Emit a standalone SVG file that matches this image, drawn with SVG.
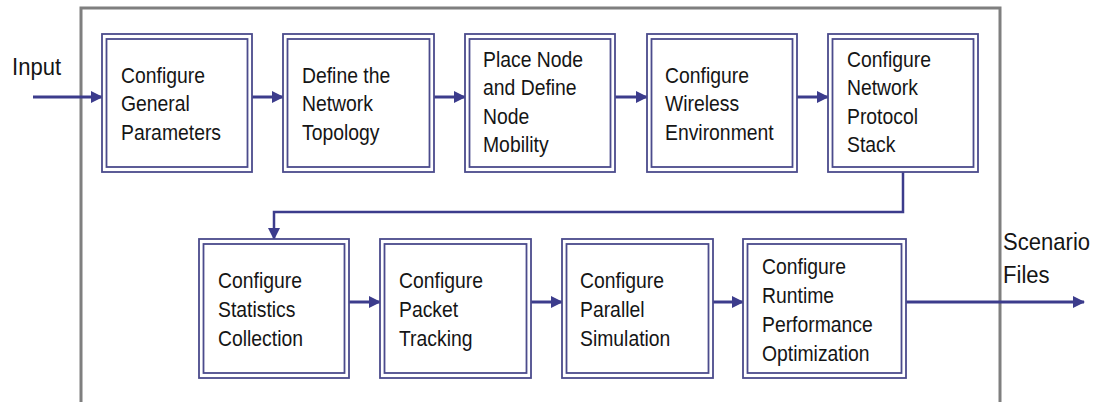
<svg xmlns="http://www.w3.org/2000/svg" width="1102" height="402" viewBox="0 0 1102 402">
<style>
  .frame { fill: none; stroke: #7f7f7f; stroke-width: 3; }
  .outer { fill: #ffffff; stroke: #4b4b8c; stroke-width: 1.8; }
  .inner { fill: #ffffff; stroke: #4b4b8c; stroke-width: 1.8; }
  .lbl { font-family: "Liberation Sans", Arial, sans-serif; font-size: 22px; fill: #151515; }
  .io { font-family: "Liberation Sans", Arial, sans-serif; font-size: 24px; fill: #151515; }
  .conn { fill: none; stroke: #3c3c8c; stroke-width: 3; }
  .conn2 { fill: none; stroke: #3c3c8c; stroke-width: 2.5; }
</style>
<defs>
  <marker id="ah" markerUnits="userSpaceOnUse" markerWidth="12" markerHeight="12" refX="11" refY="6" orient="auto">
    <path d="M0,0 L12,6 L0,12 z" fill="#3c3c8c"/>
  </marker>
</defs>
<rect x="0" y="0" width="1102" height="402" fill="#ffffff"/>
<rect class="frame" x="81" y="8" width="919" height="400"/>

<g id="labels">
  <text class="io" transform="translate(12,0) scale(0.92,1)" x="0" y="75">Input</text>
  <text class="io" transform="translate(1003,0) scale(0.92,1)"><tspan x="0" y="250">Scenario</tspan><tspan x="0" y="283">Files</tspan></text>
</g>

<g id="connectors">
  <line class="conn" x1="33" y1="97" x2="102" y2="97" marker-end="url(#ah)"/>
  <line class="conn" x1="252" y1="97" x2="283" y2="97" marker-end="url(#ah)"/>
  <line class="conn" x1="434" y1="97" x2="465" y2="97" marker-end="url(#ah)"/>
  <line class="conn" x1="615" y1="97" x2="647" y2="97" marker-end="url(#ah)"/>
  <line class="conn" x1="797" y1="97" x2="828" y2="97" marker-end="url(#ah)"/>
  <polyline class="conn2" points="903,172 903,212 274,212 274,239" marker-end="url(#ah)"/>
  <line class="conn" x1="349" y1="302" x2="380" y2="302" marker-end="url(#ah)"/>
  <line class="conn" x1="531" y1="302" x2="562" y2="302" marker-end="url(#ah)"/>
  <line class="conn" x1="713" y1="302" x2="743" y2="302" marker-end="url(#ah)"/>
  <line class="conn" x1="906" y1="302" x2="1084" y2="302" marker-end="url(#ah)"/>
</g>

<g id="n1">
  <rect class="outer" x="102" y="34" width="150" height="138"/>
  <rect class="inner" x="106.5" y="39" width="141" height="128"/>
  <text class="lbl" transform="translate(121,0) scale(0.88,1)"><tspan x="0" y="83">Configure</tspan><tspan x="0" y="111.5">General</tspan><tspan x="0" y="140">Parameters</tspan></text>
</g>
<g id="n2">
  <rect class="outer" x="283" y="34" width="151" height="138"/>
  <rect class="inner" x="287.5" y="39" width="142" height="128"/>
  <text class="lbl" transform="translate(302,0) scale(0.88,1)"><tspan x="0" y="83">Define the</tspan><tspan x="0" y="111.5">Network</tspan><tspan x="0" y="140">Topology</tspan></text>
</g>
<g id="n3">
  <rect class="outer" x="465" y="34" width="150" height="138"/>
  <rect class="inner" x="469.5" y="39" width="141" height="128"/>
  <text class="lbl" transform="translate(483,0) scale(0.88,1)"><tspan x="0" y="67">Place Node</tspan><tspan x="0" y="95.5">and Define</tspan><tspan x="0" y="124">Node</tspan><tspan x="0" y="152.5">Mobility</tspan></text>
</g>
<g id="n4">
  <rect class="outer" x="647" y="34" width="150" height="138"/>
  <rect class="inner" x="651.5" y="39" width="141" height="128"/>
  <text class="lbl" transform="translate(665,0) scale(0.88,1)"><tspan x="0" y="83">Configure</tspan><tspan x="0" y="111.5">Wireless</tspan><tspan x="0" y="140">Environment</tspan></text>
</g>
<g id="n5">
  <rect class="outer" x="828" y="34" width="150" height="138"/>
  <rect class="inner" x="832.5" y="39" width="141" height="128"/>
  <text class="lbl" transform="translate(847,0) scale(0.88,1)"><tspan x="0" y="67">Configure</tspan><tspan x="0" y="95.5">Network</tspan><tspan x="0" y="124">Protocol</tspan><tspan x="0" y="152.5">Stack</tspan></text>
</g>

<g id="n6">
  <rect class="outer" x="199" y="239" width="150" height="139"/>
  <rect class="inner" x="203.5" y="244" width="141" height="129"/>
  <text class="lbl" transform="translate(218,0) scale(0.88,1)"><tspan x="0" y="288">Configure</tspan><tspan x="0" y="317">Statistics</tspan><tspan x="0" y="346">Collection</tspan></text>
</g>
<g id="n7">
  <rect class="outer" x="380" y="239" width="151" height="139"/>
  <rect class="inner" x="384.5" y="244" width="142" height="129"/>
  <text class="lbl" transform="translate(399,0) scale(0.88,1)"><tspan x="0" y="288">Configure</tspan><tspan x="0" y="317">Packet</tspan><tspan x="0" y="346">Tracking</tspan></text>
</g>
<g id="n8">
  <rect class="outer" x="562" y="239" width="151" height="139"/>
  <rect class="inner" x="566.5" y="244" width="142" height="129"/>
  <text class="lbl" transform="translate(580,0) scale(0.88,1)"><tspan x="0" y="288">Configure</tspan><tspan x="0" y="317">Parallel</tspan><tspan x="0" y="346">Simulation</tspan></text>
</g>
<g id="n9">
  <rect class="outer" x="743" y="239" width="163" height="139"/>
  <rect class="inner" x="747.5" y="244" width="154" height="129"/>
  <text class="lbl" transform="translate(762,0) scale(0.88,1)"><tspan x="0" y="274">Configure</tspan><tspan x="0" y="303">Runtime</tspan><tspan x="0" y="332">Performance</tspan><tspan x="0" y="361">Optimization</tspan></text>
</g>
</svg>
